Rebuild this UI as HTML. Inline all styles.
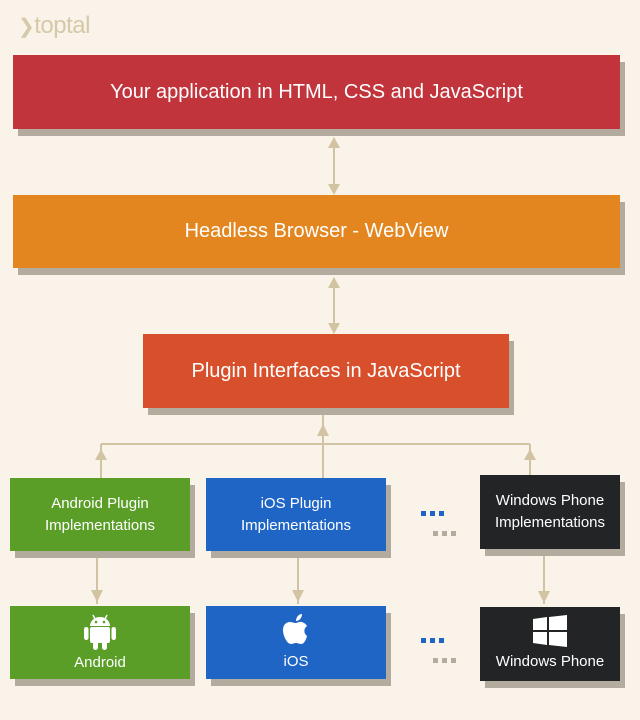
<!DOCTYPE html>
<html><head><meta charset="utf-8"><style>
*{margin:0;padding:0;box-sizing:border-box}
body{width:640px;height:720px;background:#faf3e9;position:relative;overflow:hidden;font-family:"Liberation Sans",sans-serif;color:#fff}
.b{position:absolute;display:flex;align-items:center;justify-content:center;text-align:center;box-shadow:5px 7px 0 #b3ab9d}
.big{font-size:20px}
.sm{font-size:15px;line-height:22px}
.dot{position:absolute;width:5px;height:5px}
</style></head><body>
<div style="position:absolute;left:18px;top:12px;font-size:24px;color:#d6c9a9;letter-spacing:-0.5px"><span style="font-size:20px">❯</span>toptal</div>
<svg width="640" height="720" style="position:absolute;left:0;top:0">
<g stroke="#d2c4a2" stroke-width="2" fill="#d2c4a2">
<line x1="334" y1="138" x2="334" y2="188"/>
<polygon points="328,148 340,148 334,137" stroke="none"/>
<polygon points="328,184 340,184 334,195" stroke="none"/>
<line x1="334" y1="278" x2="334" y2="330"/>
<polygon points="328,288 340,288 334,277" stroke="none"/>
<polygon points="328,323 340,323 334,334" stroke="none"/>
<line x1="323" y1="414" x2="323" y2="478"/>
<polygon points="317,436 329,436 323,424" stroke="none"/>
<line x1="101" y1="444" x2="530" y2="444"/>
<line x1="101" y1="444" x2="101" y2="478"/>
<line x1="530" y1="444" x2="530" y2="476"/>
<polygon points="95,460 107,460 101,449" stroke="none"/>
<polygon points="524,460 536,460 530,449" stroke="none"/>
<line x1="97" y1="556" x2="97" y2="604"/>
<polygon points="91,590 103,590 97,602" stroke="none"/>
<line x1="298" y1="556" x2="298" y2="604"/>
<polygon points="292,590 304,590 298,602" stroke="none"/>
<line x1="544" y1="556" x2="544" y2="604"/>
<polygon points="538,591 550,591 544,603" stroke="none"/>
</g></svg>
<div class="b big" style="left:13px;top:55px;width:607px;height:74px;background:#c1343b">Your application in HTML, CSS and JavaScript</div>
<div class="b big" style="left:13px;top:195px;width:607px;height:73px;background:#e3861f">Headless Browser - WebView</div>
<div class="b big" style="left:143px;top:334px;width:366px;height:74px;background:#d8502b">Plugin Interfaces in JavaScript</div>
<div class="b sm" style="left:10px;top:478px;width:180px;height:73px;background:#5a9d27">Android Plugin<br>Implementations</div>
<div class="b sm" style="left:206px;top:478px;width:180px;height:73px;background:#1f65c6">iOS Plugin<br>Implementations</div>
<div class="b sm" style="left:480px;top:475px;width:140px;height:74px;background:#222426">Windows Phone<br>Implementations</div>
<div class="b sm" style="left:10px;top:606px;width:180px;height:73px;background:#5a9d27;flex-direction:column">
<svg width="32" height="38" viewBox="0 0 32 38" style="margin-bottom:2px"><g fill="#fff"><path d="M6 14a10 9 0 0 1 20 0z"/><rect x="6" y="15" width="20" height="16" rx="2"/><rect x="0" y="15" width="4.5" height="13" rx="2.2"/><rect x="27.5" y="15" width="4.5" height="13" rx="2.2"/><rect x="9" y="28" width="5" height="10" rx="2.5"/><rect x="18" y="28" width="5" height="10" rx="2.5"/><line x1="9" y1="3" x2="11" y2="7" stroke="#fff" stroke-width="1.5"/><line x1="23" y1="3" x2="21" y2="7" stroke="#fff" stroke-width="1.5"/></g><circle cx="12" cy="10" r="1.3" fill="#5a9d27"/><circle cx="20" cy="10" r="1.3" fill="#5a9d27"/></svg>
<div>Android</div></div>
<div class="b sm" style="left:206px;top:606px;width:180px;height:73px;background:#1f65c6;flex-direction:column">
<svg width="30" height="36" viewBox="0 0 30 36" style="margin-bottom:2px"><path fill="#fff" d="M15 10c3-1 5-2 8 0 2 1 3 3 3 3-3 2-4 7 0 10-1 4-3 8-6 8-2 0-3-1-5-1s-3 1-5 1c-4 0-8-8-8-14 0-6 4-8 7-8 2 0 3 1 6 1z"/><path fill="#fff" d="M15 8c0-4 3-7 6-7 0 4-3 7-6 7z"/></svg>
<div>iOS</div></div>
<div class="b sm" style="left:480px;top:607px;width:140px;height:74px;background:#222426;flex-direction:column">
<svg width="34" height="32" viewBox="0 0 34 32" style="margin-bottom:4px"><g fill="#fff"><polygon points="0,4 14,2 14,15 0,15"/><polygon points="16,2 34,0 34,15 16,15"/><polygon points="0,17 14,17 14,30 0,28"/><polygon points="16,17 34,17 34,32 16,30"/></g></svg>
<div>Windows Phone</div></div>
<div class="dot" style="left:421px;top:511px;background:#1f65c6"></div>
<div class="dot" style="left:430px;top:511px;background:#1f65c6"></div>
<div class="dot" style="left:439px;top:511px;background:#1f65c6"></div>
<div class="dot" style="left:433px;top:531px;background:#b5ab9d"></div>
<div class="dot" style="left:442px;top:531px;background:#b5ab9d"></div>
<div class="dot" style="left:451px;top:531px;background:#b5ab9d"></div>
<div class="dot" style="left:421px;top:638px;background:#1f65c6"></div>
<div class="dot" style="left:430px;top:638px;background:#1f65c6"></div>
<div class="dot" style="left:439px;top:638px;background:#1f65c6"></div>
<div class="dot" style="left:433px;top:658px;background:#b5ab9d"></div>
<div class="dot" style="left:442px;top:658px;background:#b5ab9d"></div>
<div class="dot" style="left:451px;top:658px;background:#b5ab9d"></div>
</body></html>
